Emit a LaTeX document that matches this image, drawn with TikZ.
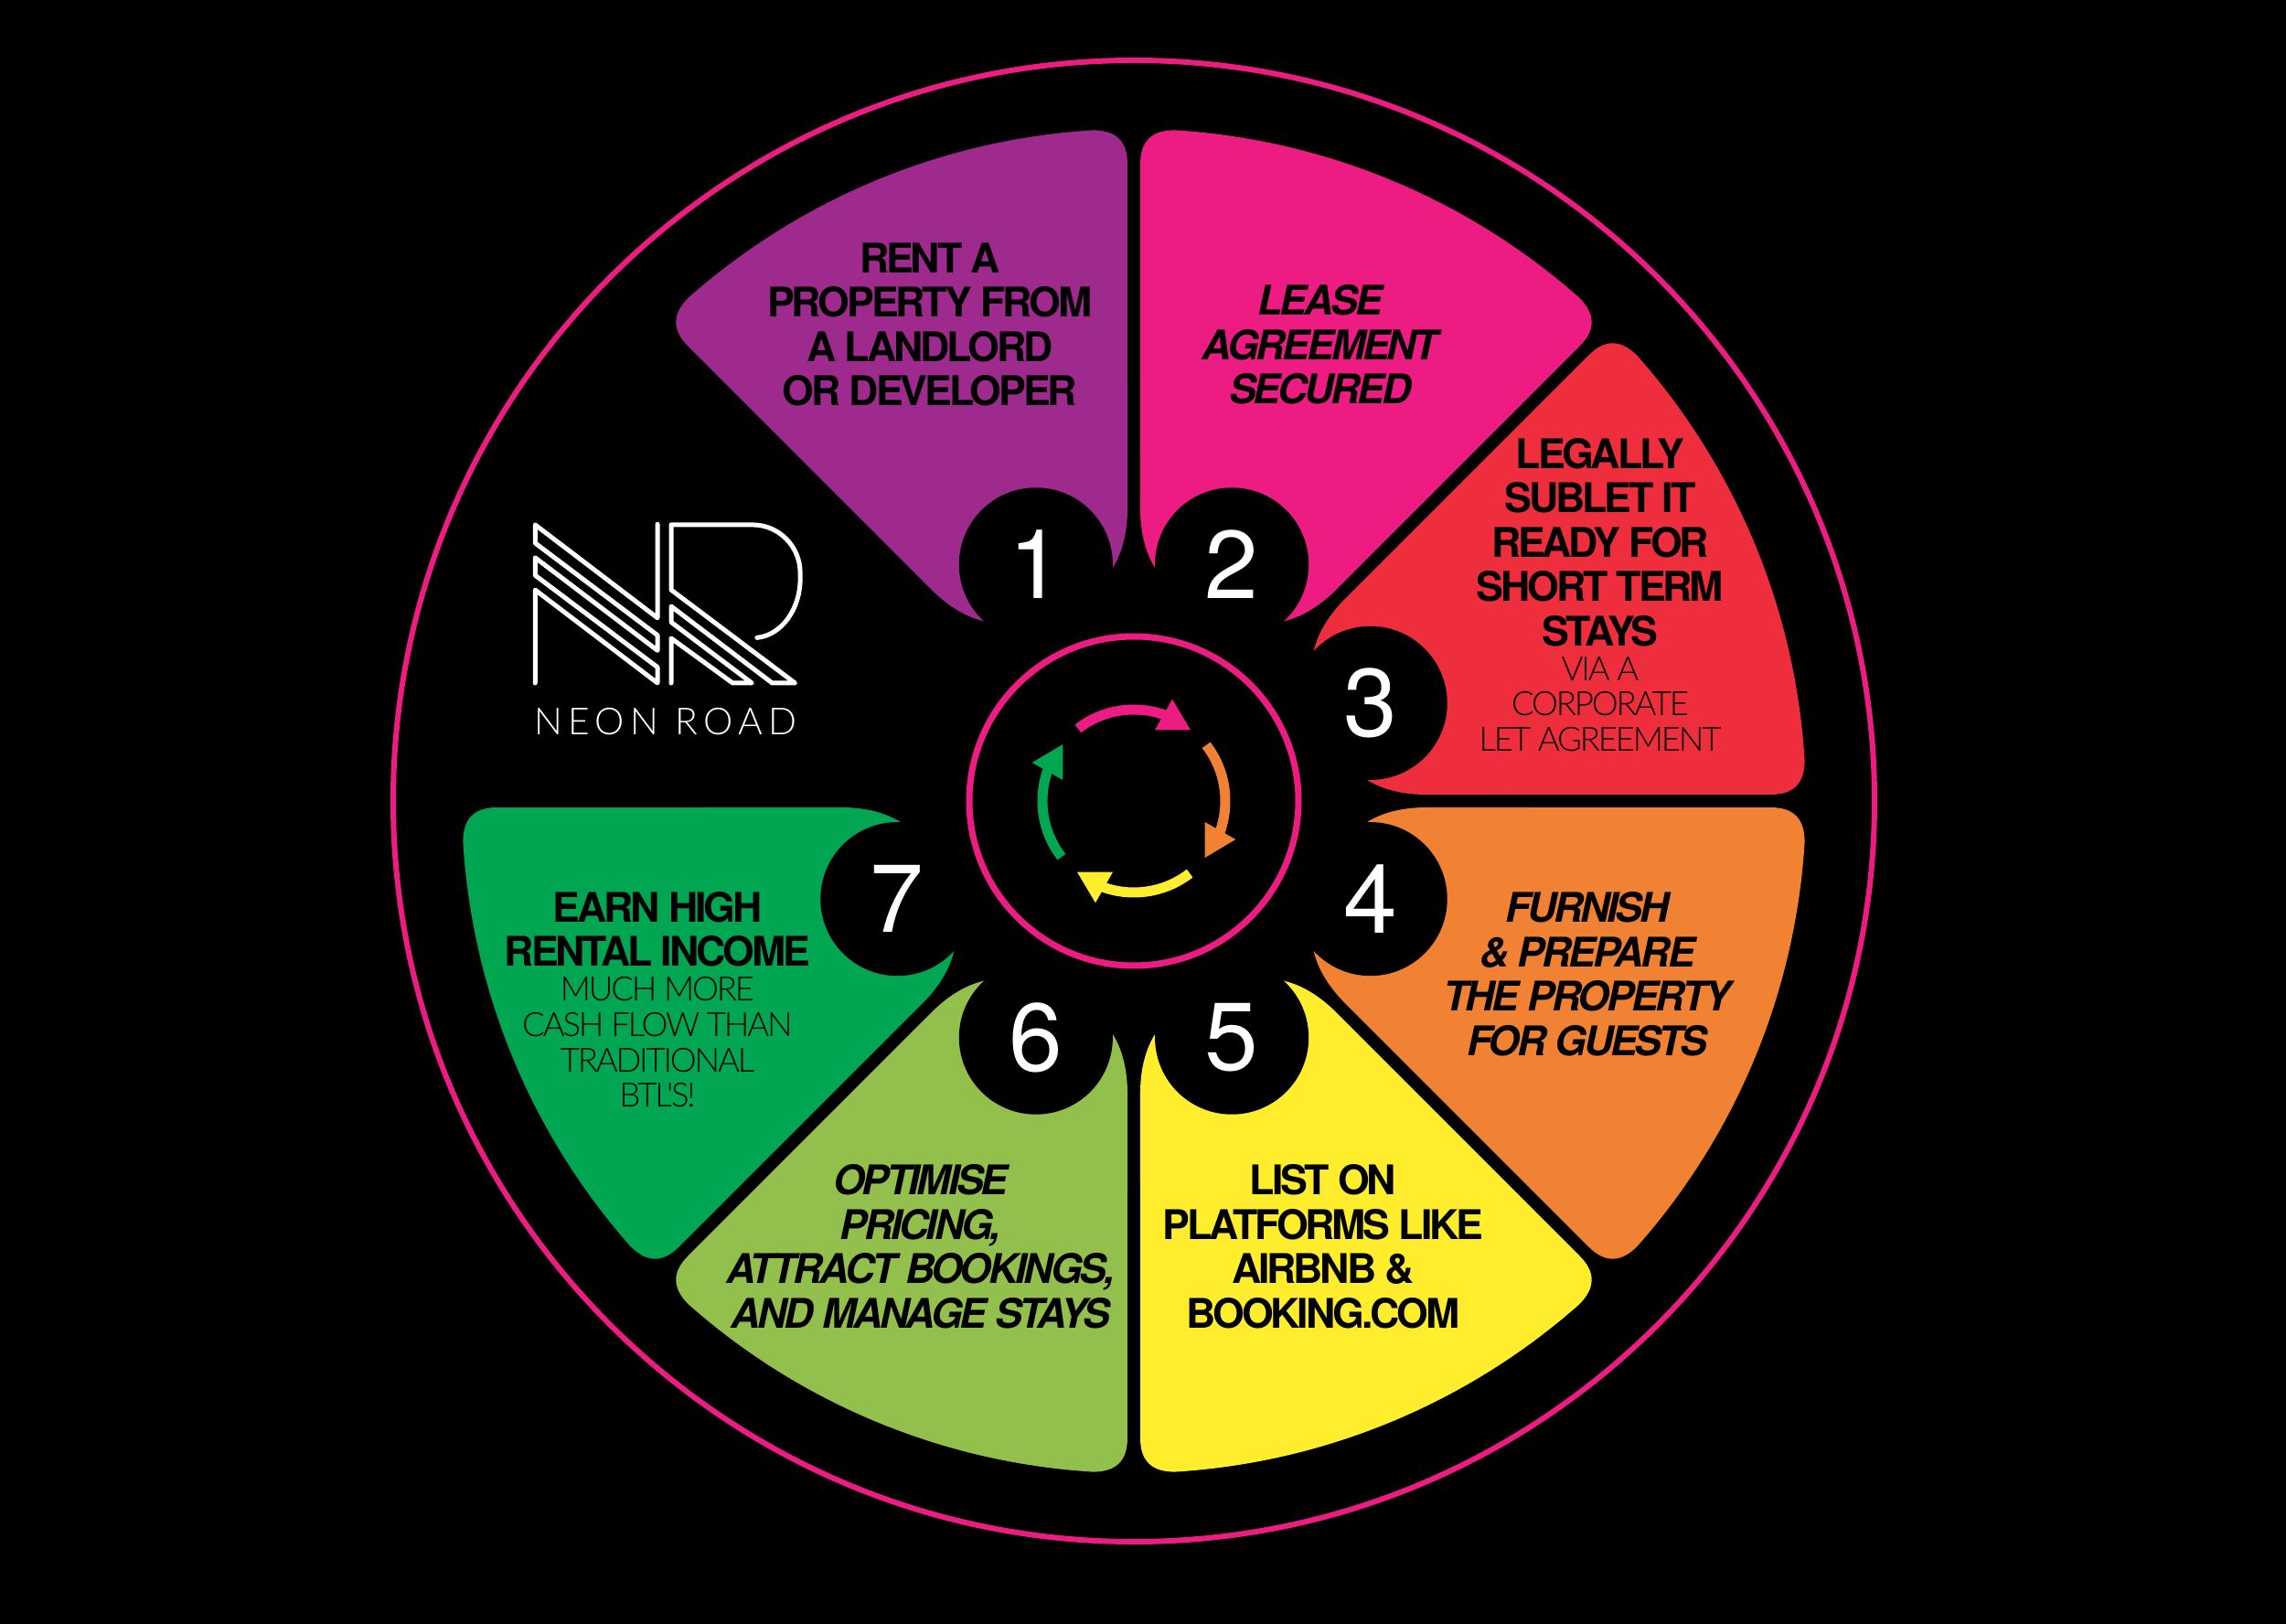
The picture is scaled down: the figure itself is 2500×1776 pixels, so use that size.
\documentclass[tikz,border=0pt]{standalone}
\usepackage{fontspec}
\setmainfont{TeX Gyre Heros}
\newfontfamily\stepfont[LetterSpace=-7]{TeX Gyre Heros}
\newfontfamily\notefont[LetterSpace=-6]{Lato Light}
\newfontfamily\brandfont[LetterSpace=16]{Lato Light}
\definecolor{neonPurple}{RGB}{158, 42, 142}
\definecolor{neonPink}{RGB}{236, 28, 130}
\definecolor{neonRed}{RGB}{238, 46, 60}
\definecolor{neonOrange}{RGB}{241, 129, 51}
\definecolor{neonYellow}{RGB}{255, 237, 46}
\definecolor{neonOlive}{RGB}{147, 192, 76}
\definecolor{neonGreen}{RGB}{0, 166, 81}
\tikzset{
  steptitle/.style={inner sep=0pt, align=center, text=black, font=\fontsize{12.7}{13.8}\selectfont\stepfont\bfseries},
  stepitalic/.style={steptitle, font=\fontsize{12.7}{13.8}\selectfont\stepfont\bfseries\itshape},
  stepnote/.style={inner sep=0pt, align=center, text=black, font=\fontsize{10.4}{11}\selectfont\notefont},
  stepnum/.style={circle, fill=black, text=white, inner sep=0pt, minimum size=1.68cm, font=\fontsize{30}{30}\selectfont},
  logoline/.style={draw=white, line width=0.05cm, line join=round, line cap=round}
}
\begin{document}
\begin{tikzpicture}[x=0.01cm, y=0.01cm]
  \fill[black] (-1240,-900) rectangle (1260,876);
  \draw[neonPink, line width=0.06cm] (0,0) circle[radius=810];
  % the seven wedges and their numbers
  \foreach \n/\a/\c in {1/90/neonPurple, 2/45/neonPink, 3/0/neonRed, 4/-45/neonOrange, 5/-90/neonYellow, 6/-135/neonOlive, 7/-180/neonGreen} {
    \fill[\c, rotate=\a] (1.25:320) -- (0.58:697) .. controls (0.56:722) and (1.56:734) .. (3.5:735)
      arc[start angle=3.5, end angle=41.5, radius=735] .. controls (43.44:734) and (44.44:722) .. (44.42:697)
      -- (43.75:320) .. controls (43.59:285) and (41.29:262.6) .. (38.56:249.6)
      arc[start angle=38.56, end angle=6.44, radius=249.6] .. controls (3.71:262.6) and (1.41:285) .. cycle;
  }
  \foreach \n/\a in {1/112.5, 2/67.5, 3/22.5, 4/-22.5, 5/-67.5, 6/-112.5, 7/-157.5} {
    \node[stepnum] (num\n) at (\a:280) {\n};
  }
  % inner ring and arrows
  \draw[neonPink, line width=0.07cm] (0,0) circle[radius=180];
  \foreach \a/\c in {0/neonPink, -90/neonOrange, -180/neonYellow, -270/neonGreen} {
    \begin{scope}[rotate=\a]
      \draw[\c, line width=0.11cm] (127.7:100) arc[start angle=127.7, end angle=68, radius=100];
      \fill[\c] (42,111.3) -- (62,77.7) -- (23,77.7) -- cycle;
    \end{scope}
  }
  % step texts
  \node[steptitle] (rent) at (-223,521) {RENT A\\PROPERTY FROM\\A LANDLORD\\OR DEVELOPER};
  \node[stepitalic] (lease) at (204,499) {LEASE\\AGREEMENT\\SECURED};
  \node[steptitle] (sublet) at (510,283) {LEGALLY\\SUBLET IT\\READY FOR\\SHORT TERM\\STAYS};
  \node[stepnote] (subletnote) at (510,106) {VIA A\\CORPORATE\\LET AGREEMENT};
  \node[stepitalic] (furnish) at (496,-189) {FURNISH\\\& PREPARE\\THE PROPERTY\\FOR GUESTS};
  \node[steptitle] (list) at (207,-487) {LIST ON\\PLATFORMS LIKE\\AIRBNB \&\\BOOKING.COM};
  \node[stepitalic] (optimise) at (-233,-487) {OPTIMISE\\PRICING,\\ATTRACT BOOKINGS,\\AND MANAGE STAYS};
  \node[steptitle] (earn) at (-521,-140) {EARN HIGH\\RENTAL INCOME};
  \node[stepnote] (earnnote) at (-521,-264) {MUCH MORE\\CASH FLOW THAN\\TRADITIONAL\\BTL'S!};
  % logo
  \begin{scope}[shift={(-700,356)}, x=0.0033333cm, y=-0.0033333cm]
    \draw[logoline] (538,160) -- (538,468) -- (136,162) -- (136,222) -- (538,525) -- (538,575) -- (136,270) -- (136,328) -- (538,630) -- (538,682) -- (136,376) -- (136,682);
    \draw[logoline] (583,682) -- (583,535) -- (785,682) -- (848,682) -- (583,482) -- (583,430) -- (915,682) -- (990,682) -- (583,376) -- (583,162) -- (850,162)
      .. controls (937,162) and (1007,233) .. (1007,320) -- (1007,340) .. controls (1007,440) and (945,525) .. (865,533);
  \end{scope}
  \node[inner sep=0pt, text=white, font=\fontsize{11.6}{12}\selectfont\brandfont] (brand) at (-512,87) {NEON ROAD};
\end{tikzpicture}
\end{document}
